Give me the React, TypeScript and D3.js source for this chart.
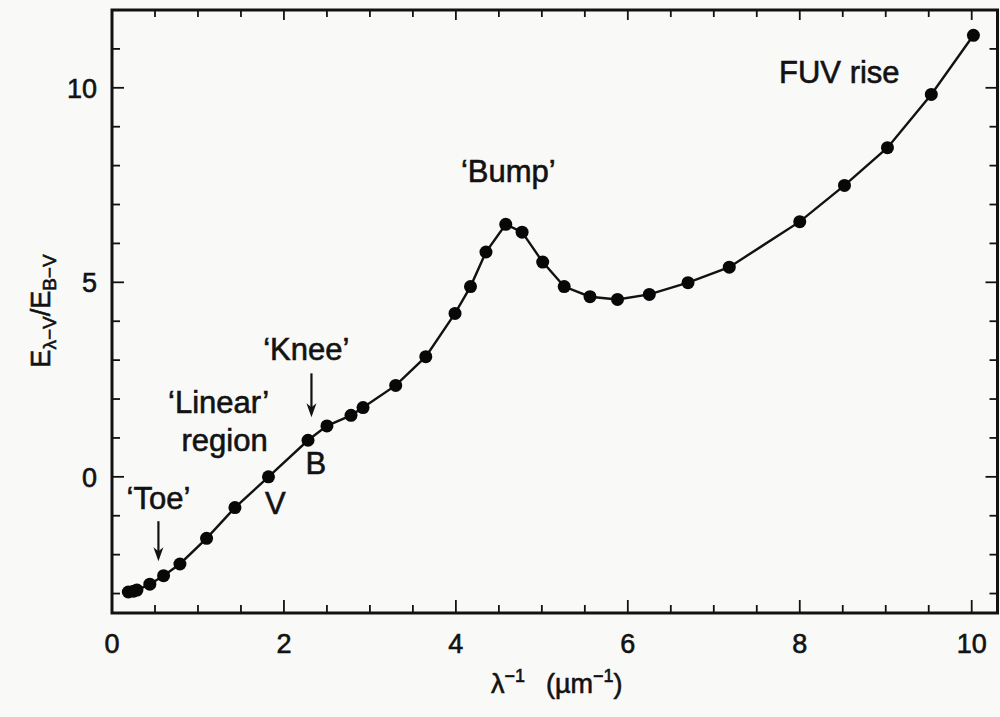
import React, { useEffect, useRef } from "react";
import * as d3 from "d3";

// inverse wavelength (µm^-1)
const invLambda = [0.19, 0.25, 0.29, 0.44, 0.6, 0.79, 1.1, 1.43, 1.82, 2.28, 2.5, 2.78, 2.92, 3.3, 3.65, 3.99, 4.17, 4.35, 4.58, 4.77, 5.01, 5.26, 5.56, 5.88, 6.25, 6.7, 7.18, 8.0, 8.52, 9.02, 9.53, 10.02];
// E(λ-V)/E(B-V)
const extinction = [-2.96, -2.94, -2.91, -2.76, -2.54, -2.24, -1.58, -0.79, 0.0, 0.94, 1.31, 1.58, 1.78, 2.35, 3.09, 4.2, 4.89, 5.78, 6.49, 6.29, 5.52, 4.89, 4.63, 4.56, 4.69, 4.99, 5.39, 6.56, 7.49, 8.46, 9.83, 11.35];

const xMajorTicks = [0, 2, 4, 6, 8, 10];
const yMajorTicks = [0, 5, 10];

const labels = [
  { text: "\u2018Bump\u2019", x: 4.61, y: 7.59 },
  { text: "FUV rise", x: 8.46, y: 10.13 },
  { text: "\u2018Knee\u2019", x: 2.26, y: 3.0 },
  { text: "\u2018Linear\u2019", x: 1.24, y: 1.64 },
  { text: "region", x: 1.31, y: 0.66 },
  { text: "\u2018Toe\u2019", x: 0.54, y: -0.83 },
  { text: "V", x: 1.9, y: -0.96 },
  { text: "B", x: 2.37, y: 0.07 },
];

const arrows = [
  { x: 2.32, y1: 2.66, y2: 1.53 },
  { x: 0.54, y1: -1.14, y2: -2.17 },
];

const W = 1000;
const H = 717;
const M = { left: 112, right: 2.5, top: 10, bottom: 104 };

export default function App() {
  const ref = useRef<SVGSVGElement>(null);
  useEffect(() => {
    const svg = d3.select(ref.current);
    svg.selectAll("*").remove();
    const font = "'Liberation Sans', Arial, Helvetica, sans-serif";
    const ink = "#121212";

    svg.append("rect").attr("width", W).attr("height", H).attr("fill", "#f9f9f8");

    const x = d3.scaleLinear().domain([0, 10.3]).range([M.left, W - M.right]);
    const y = d3.scaleLinear().domain([-3.5, 12]).range([H - M.bottom, M.top]);

    const x0 = x.range()[0], x1 = x.range()[1];
    const y0 = y.range()[0], y1 = y.range()[1];

    // ticks
    const xt = d3.range(0.5, 10.01, 0.5);
    const yt = d3.range(-3, 11.01, 1);
    const g = svg.append("g").attr("stroke", ink).attr("stroke-width", 1.8);
    xt.forEach((v) => {
      const major = xMajorTicks.includes(v);
      const len = major ? 13 : 8;
      g.append("line").attr("x1", x(v)).attr("x2", x(v)).attr("y1", y0).attr("y2", y0 - len);
      g.append("line").attr("x1", x(v)).attr("x2", x(v)).attr("y1", y1).attr("y2", y1 + (major ? 10 : 7));
    });
    yt.forEach((v) => {
      const major = yMajorTicks.includes(v);
      const len = major ? 12 : 8;
      g.append("line").attr("y1", y(v)).attr("y2", y(v)).attr("x1", x0).attr("x2", x0 + len);
      g.append("line").attr("y1", y(v)).attr("y2", y(v)).attr("x1", x1).attr("x2", x1 - len);
    });

    // frame
    svg.append("rect")
      .attr("x", x0).attr("y", y1).attr("width", x1 - x0).attr("height", y0 - y1)
      .attr("fill", "none").attr("stroke", ink).attr("stroke-width", 3);

    const txt = (sel: any, size: number) =>
      sel.attr("font-family", font).attr("font-size", size).attr("fill", ink)
        .attr("stroke", ink).attr("stroke-width", 0.6);

    // tick labels
    xMajorTicks.forEach((v) => {
      txt(svg.append("text").attr("x", x(v)).attr("y", y0 + 40).attr("text-anchor", "middle"), 27).text(String(v));
    });
    yMajorTicks.forEach((v) => {
      txt(svg.append("text").attr("x", x0 - 15).attr("y", y(v) + 10).attr("text-anchor", "end"), 27).text(String(v));
    });

    // curve
    const pts = invLambda.map((v, i) => [v, extinction[i]] as [number, number]);
    const line = d3.line<[number, number]>().x((d) => x(d[0])).y((d) => y(d[1]));
    svg.append("path").attr("d", line(pts)).attr("fill", "none").attr("stroke", ink).attr("stroke-width", 2.4);
    svg.append("g").selectAll("circle").data(pts).join("circle")
      .attr("cx", (d) => x(d[0])).attr("cy", (d) => y(d[1])).attr("r", 6.5).attr("fill", "#080808");

    // annotations
    labels.forEach((l) => {
      txt(svg.append("text").attr("x", x(l.x)).attr("y", y(l.y)).attr("text-anchor", "middle"), 31).text(l.text);
    });
    arrows.forEach((a) => {
      const ax = x(a.x), ya = y(a.y1), yb = y(a.y2);
      svg.append("line").attr("x1", ax).attr("x2", ax).attr("y1", ya).attr("y2", yb - 4)
        .attr("stroke", ink).attr("stroke-width", 2.2);
      svg.append("path")
        .attr("d", `M${ax - 5},${yb - 14} L${ax},${yb} L${ax + 5},${yb - 14} L${ax},${yb - 10} Z`)
        .attr("fill", ink);
    });

    // axis titles
    const xl = txt(svg.append("text").attr("x", (x0 + x1) / 2 + 2).attr("y", 693).attr("text-anchor", "middle"), 27);
    xl.append("tspan").text("\u03bb");
    xl.append("tspan").attr("font-size", 18).attr("dy", -11).text("\u22121");
    xl.append("tspan").attr("dy", 11).text("\u2002 (\u00b5m");
    xl.append("tspan").attr("font-size", 18).attr("dy", -11).text("\u22121");
    xl.append("tspan").attr("dy", 11).text(")");

    const yl = txt(svg.append("text").attr("transform", `translate(50,311) rotate(-90)`).attr("text-anchor", "middle"), 27);
    yl.append("tspan").text("E");
    yl.append("tspan").attr("font-size", 19).attr("dy", 6).text("\u03bb\u2212V");
    yl.append("tspan").attr("dy", -6).text("/E");
    yl.append("tspan").attr("font-size", 19).attr("dy", 6).text("B\u2212V");
  }, []);
  return (
    <div style={{ position: "absolute", left: 0, top: 0 }}>
      <svg ref={ref} width={W} height={H} style={{ display: "block" }} />
    </div>
  );
}
